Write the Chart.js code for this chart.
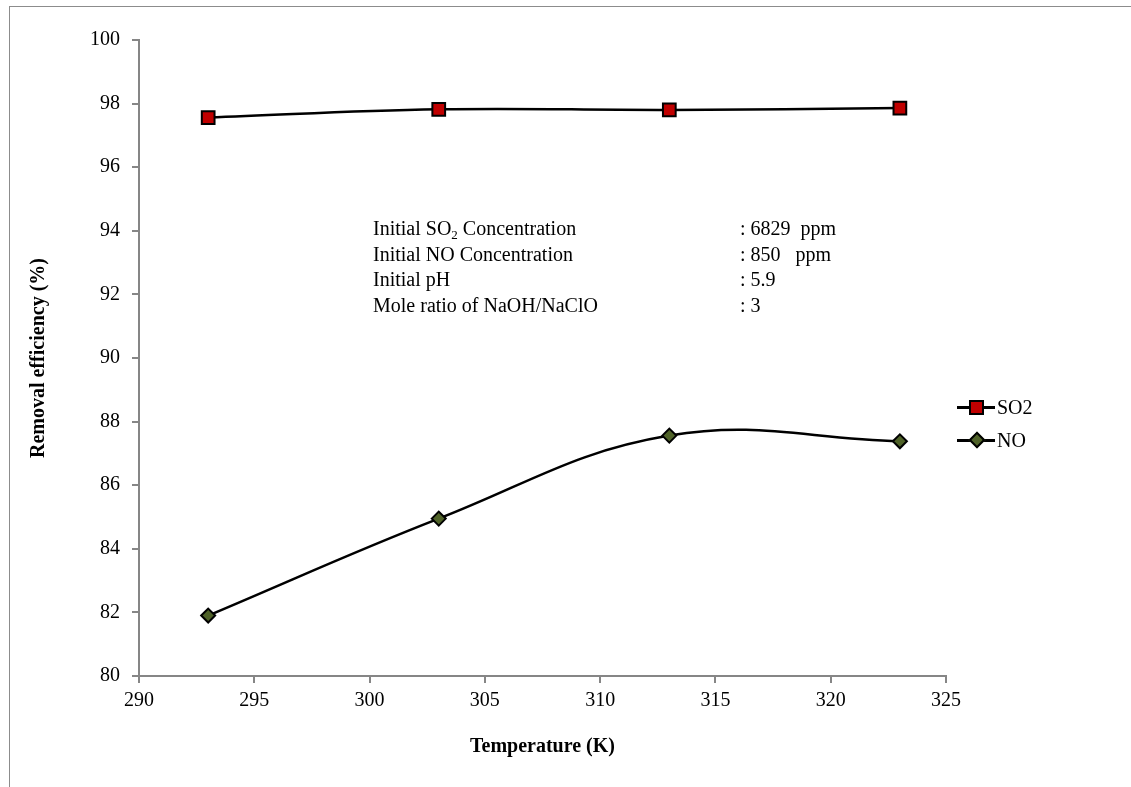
<!DOCTYPE html>
<html>
<head>
<meta charset="utf-8">
<script src="https://cdn.jsdelivr.net/npm/chart.js@4.4.1/dist/chart.umd.min.js"></script>
<style>
    html, body { margin: 0; padding: 0; background: #fff; }
    #wrap { position: relative; width: 1131px; height: 787px; overflow: hidden; }
    #frame { position: absolute; left: 9px; top: 6px; width: 1200px; height: 900px; border: 1px solid #8c8c8c; box-sizing: border-box; }
    #chart { position: absolute; left: 0; top: 0; }
    .note { position: absolute; font-family: "Liberation Serif", "Times New Roman", serif; font-size: 20px; color: #000; white-space: pre; line-height: 25.5px; }
    .note sub { font-size: 13px; vertical-align: -4px; line-height: 0; }
    .legend { position: absolute; left: 957px; font-family: "Liberation Serif", "Times New Roman", serif; font-size: 20px; color: #000; height: 24px; }
    .legend .ln { position: absolute; left: 0; top: 11px; width: 38px; height: 2.5px; background: #000; }
    .legend .sq { position: absolute; left: 12px; top: 5px; width: 11px; height: 11px; background: #c00000; border: 2px solid #000; }
    .legend .dm { position: absolute; left: 14px; top: 6px; width: 8px; height: 8px; background: #4f6228; border: 2px solid #000; transform: rotate(45deg); }
    .legend .tx { position: absolute; left: 40px; top: 0; line-height: 24px; }
</style>
</head>
<body>
<div id="wrap">
    <div id="frame"></div>
    <canvas id="chart" width="1131" height="787"></canvas>
    <div class="note" style="left:373px; top:216px;">Initial SO<sub>2</sub> Concentration
Initial NO Concentration
Initial pH
Mole ratio of NaOH/NaClO</div>
    <div class="note" style="left:740px; top:216px;">: 6829  ppm
: 850   ppm
: 5.9
: 3</div>
    <div class="legend" style="top:395px;"><div class="ln"></div><div class="sq"></div><div class="tx">SO2</div></div>
    <div class="legend" style="top:428px;"><div class="ln"></div><div class="dm"></div><div class="tx">NO</div></div>
</div>
<script>
const temperatures = [293, 303, 313, 323];
const so2Removal = [97.56, 97.82, 97.80, 97.86];
const noRemoval = [81.90, 84.95, 87.56, 87.38];
const xTicks = [290, 295, 300, 305, 310, 315, 320, 325];
const yTicks = [80, 82, 84, 86, 88, 90, 92, 94, 96, 98, 100];

const serif = "'Liberation Serif', 'Times New Roman', serif";
const axisGray = "#868686";

function toPoints(xs, ys) {
    return xs.map((x, i) => ({ x: x, y: ys[i] }));
}

const ctx = document.getElementById("chart").getContext("2d");

new Chart(ctx, {
    type: "line",
    data: {
        datasets: [
            {
                label: "SO2",
                data: toPoints(temperatures, so2Removal),
                borderColor: "#000",
                borderWidth: 2.5,
                tension: 0.4,
                pointStyle: "rect",
                pointRadius: 9,
                pointBackgroundColor: "#c00000",
                pointBorderColor: "#000",
                pointBorderWidth: 2
            },
            {
                label: "NO",
                data: toPoints(temperatures, noRemoval),
                borderColor: "#000",
                borderWidth: 2.5,
                tension: 0.4,
                pointStyle: "rectRot",
                pointRadius: 7,
                pointBackgroundColor: "#4f6228",
                pointBorderColor: "#000",
                pointBorderWidth: 2
            }
        ]
    },
    options: {
        responsive: false,
        animation: false,
        layout: { padding: { left: 0, top: 40, right: 185, bottom: 0 } },
        plugins: {
            legend: { display: false },
            tooltip: { enabled: false }
        },
        scales: {
            x: {
                type: "linear",
                min: 290,
                max: 325,
                afterBuildTicks: s => { s.ticks = xTicks.map(v => ({ value: v })); },
                afterFit: s => { s.height = 111; },
                border: { color: axisGray, width: 2 },
                grid: { drawOnChartArea: false, color: axisGray, tickLength: 7, lineWidth: 2 },
                ticks: { color: "#000", font: { family: serif, size: 20 }, padding: 6, maxRotation: 0 },
                title: {
                    display: true,
                    text: "Temperature (K)",
                    color: "#000",
                    font: { family: serif, size: 20, weight: "bold" },
                    padding: { bottom: 28 }
                }
            },
            y: {
                min: 80,
                max: 100,
                afterBuildTicks: s => { s.ticks = yTicks.map(v => ({ value: v })); },
                afterFit: s => { s.width = 139; },
                border: { color: axisGray, width: 2 },
                grid: { drawOnChartArea: false, color: axisGray, tickLength: 7, lineWidth: 2 },
                ticks: { color: "#000", font: { family: serif, size: 20 }, padding: 12 },
                title: {
                    display: true,
                    text: "Removal efficiency (%)",
                    color: "#000",
                    font: { family: serif, size: 20, weight: "bold" },
                    padding: { top: 27 }
                }
            }
        }
    }
});
</script>
</body>
</html>
